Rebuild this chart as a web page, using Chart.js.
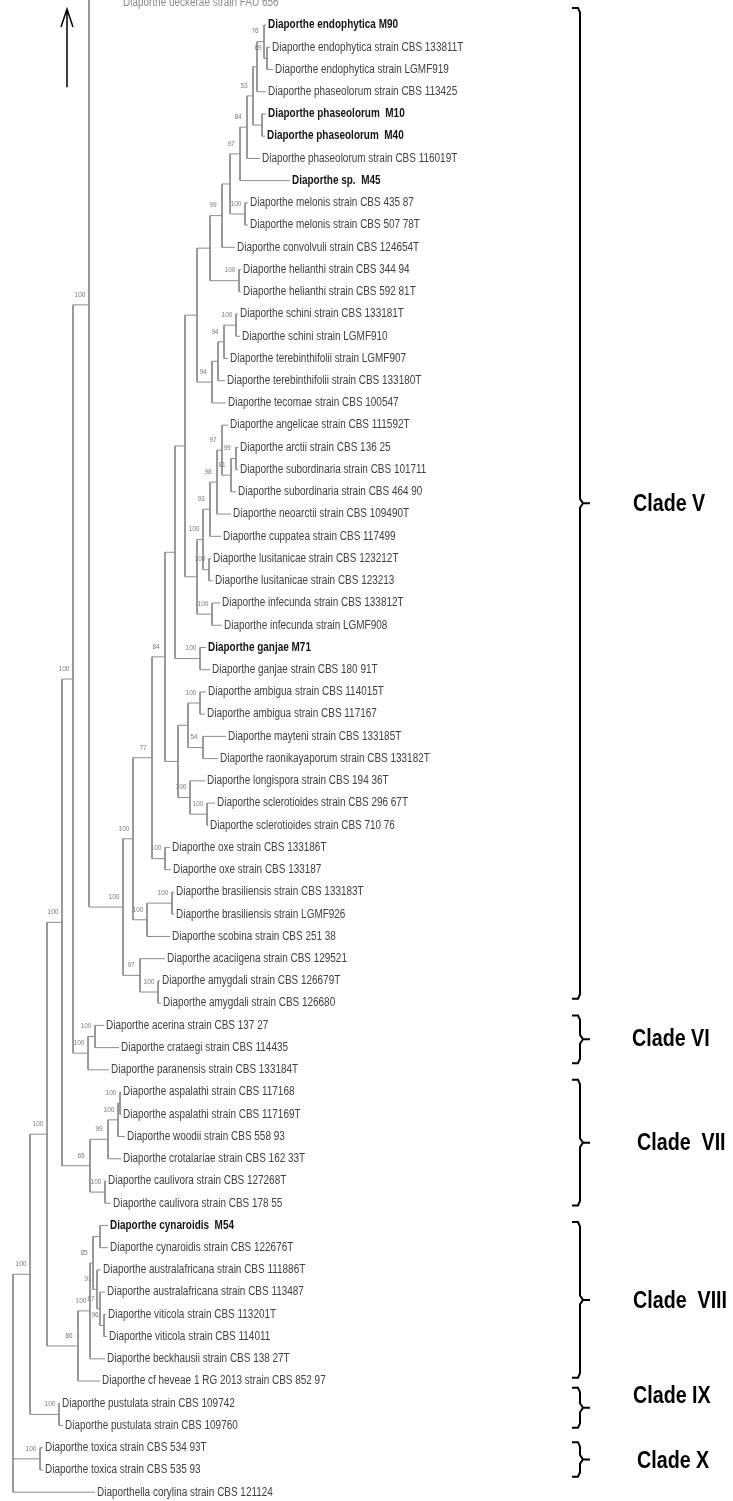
<!DOCTYPE html>
<html><head><meta charset="utf-8">
<script src="https://cdn.jsdelivr.net/npm/chart.js@4.4.1/dist/chart.umd.min.js"></script>
<style>html,body{margin:0;padding:0;background:#fff;}#wrap{width:733px;height:1501px;position:relative;}</style>
</head><body><div id="wrap"><canvas id="c" width="733" height="1501"></canvas></div>
<script>
// ---- leaves (row index = position in list) ----
const taxa = [
 "Diaporthe ueckerae strain FAU 656",
 "Diaporthe endophytica M90",
 "Diaporthe endophytica strain CBS 133811T",
 "Diaporthe endophytica strain LGMF919",
 "Diaporthe phaseolorum strain CBS 113425",
 "Diaporthe phaseolorum  M10",
 "Diaporthe phaseolorum  M40",
 "Diaporthe phaseolorum strain CBS 116019T",
 "Diaporthe sp.  M45",
 "Diaporthe melonis strain CBS 435 87",
 "Diaporthe melonis strain CBS 507 78T",
 "Diaporthe convolvuli strain CBS 124654T",
 "Diaporthe helianthi strain CBS 344 94",
 "Diaporthe helianthi strain CBS 592 81T",
 "Diaporthe schini strain CBS 133181T",
 "Diaporthe schini strain LGMF910",
 "Diaporthe terebinthifolii strain LGMF907",
 "Diaporthe terebinthifolii strain CBS 133180T",
 "Diaporthe tecomae strain CBS 100547",
 "Diaporthe angelicae strain CBS 111592T",
 "Diaporthe arctii strain CBS 136 25",
 "Diaporthe subordinaria strain CBS 101711",
 "Diaporthe subordinaria strain CBS 464 90",
 "Diaporthe neoarctii strain CBS 109490T",
 "Diaporthe cuppatea strain CBS 117499",
 "Diaporthe lusitanicae strain CBS 123212T",
 "Diaporthe lusitanicae strain CBS 123213",
 "Diaporthe infecunda strain CBS 133812T",
 "Diaporthe infecunda strain LGMF908",
 "Diaporthe ganjae M71",
 "Diaporthe ganjae strain CBS 180 91T",
 "Diaporthe ambigua strain CBS 114015T",
 "Diaporthe ambigua strain CBS 117167",
 "Diaporthe mayteni strain CBS 133185T",
 "Diaporthe raonikayaporum strain CBS 133182T",
 "Diaporthe longispora strain CBS 194 36T",
 "Diaporthe sclerotioides strain CBS 296 67T",
 "Diaporthe sclerotioides strain CBS 710 76",
 "Diaporthe oxe strain CBS 133186T",
 "Diaporthe oxe strain CBS 133187",
 "Diaporthe brasiliensis strain CBS 133183T",
 "Diaporthe brasiliensis strain LGMF926",
 "Diaporthe scobina strain CBS 251 38",
 "Diaporthe acaciigena strain CBS 129521",
 "Diaporthe amygdali strain CBS 126679T",
 "Diaporthe amygdali strain CBS 126680",
 "Diaporthe acerina strain CBS 137 27",
 "Diaporthe crataegi strain CBS 114435",
 "Diaporthe paranensis strain CBS 133184T",
 "Diaporthe aspalathi strain CBS 117168",
 "Diaporthe aspalathi strain CBS 117169T",
 "Diaporthe woodii strain CBS 558 93",
 "Diaporthe crotalariae strain CBS 162 33T",
 "Diaporthe caulivora strain CBS 127268T",
 "Diaporthe caulivora strain CBS 178 55",
 "Diaporthe cynaroidis  M54",
 "Diaporthe cynaroidis strain CBS 122676T",
 "Diaporthe australafricana strain CBS 111886T",
 "Diaporthe australafricana strain CBS 113487",
 "Diaporthe viticola strain CBS 113201T",
 "Diaporthe viticola strain CBS 114011",
 "Diaporthe beckhausii strain CBS 138 27T",
 "Diaporthe cf heveae 1 RG 2013 strain CBS 852 97",
 "Diaporthe pustulata strain CBS 109742",
 "Diaporthe pustulata strain CBS 109760",
 "Diaporthe toxica strain CBS 534 93T",
 "Diaporthe toxica strain CBS 535 93",
 "Diaporthella corylina strain CBS 121124"
];
const boldTaxa = [1, 5, 6, 8, 29, 55];
const unattachedTaxa = [0];
// tip depth of every leaf (tree distance units)
const tipDepth = [
 121, 266, 270, 273, 266, 266, 265, 260, 290, 248,
 248, 235, 241, 241, 238, 240, 228, 225, 226, 228,
 238, 238, 236, 231, 221, 211, 213, 220, 222, 206,
 210, 206, 205, 226, 218, 205, 215, 208, 170, 171,
 174, 174, 170, 165, 160, 161, 104, 119, 109, 121,
 121, 125, 121, 106, 111, 108, 108, 101, 105, 106,
 107, 105, 100, 60, 63, 43, 43, 95
];
// ---- internal nodes ----
const nodeIds = ["E2","E1","E0","P1","P2","P3","P4","M1","N1","N2","H","N3","S1","S2","S3","S4","N4",
 "A1","A2","A3","A4","A5","L","A6","I","A7","N5","G","N6","Am","My","Q1","Sc","Q2","Q","N7","Ox","N8",
 "Br","Bs","N9","Ay","Aa","N10","A","Ac","V6","B","As1","As2","As3","Ca","V7","C","Cy","Vi","Au2","Au1",
 "Cy2","Cy3","V8","D","Pu","E","To","R"];
const nodeChildren = [
 [2,3],[1,"E2"],["E1",4],[5,6],["E0","P1"],["P2",7],["P3",8],[9,10],["P4","M1"],["N1",11],[12,13],["N2","H"],
 [14,15],["S1",16],["S2",17],["S3",18],["N3","S4"],
 [20,21],["A1",22],[19,"A2"],["A3",23],["A4",24],[25,26],["A5","L"],[27,28],["A6","I"],["N4","A7"],[29,30],["N5","G"],
 [31,32],[33,34],["Am","My"],[36,37],[35,"Sc"],["Q1","Q2"],["N6","Q"],[38,39],["N7","Ox"],
 [40,41],["Br",42],["N8","Bs"],[44,45],[43,"Ay"],["N9","Aa"],["UP","N10"],[46,47],["Ac",48],["A","V6"],
 [49,50],["As1",51],["As2",52],[53,54],["As3","Ca"],["B","V7"],[55,56],[59,60],[58,"Vi"],[57,"Au2"],
 ["Cy","Au1"],["Cy2",61],["Cy3",62],["C","V8"],[63,64],["D","Pu"],[65,66],["E","To",67]
];
const nodeDepth = [
 267,264,257,262,253,247,240,245,230,222,239,210,236,224,218,212,197,
 236,231,222,217,210,209,203,212,197,185,200,175,200,203,188,207,190,178,165,165,152,
 172,147,133,158,140,123,89,95,88,73,120,118,108,105,90,62,100,104,100,97,
 93,90,78,47,59,30,40,13
];
const nodeSupport = [
 "69","76","","","53","84","97","100","","99","100","","100","94","","94","",
 "99","81","97","98","93","100","100","100","","","100","","100","54","","100","100","","84","100","77",
 "100","100","100","100","97","100","100","100","100","100","100","100","99","100","65","100","","96","67","91",
 "85","100","86","100","100","100","100",""
];
// the clade continuing above the picture
const upperCladeRow = -13.5;
const upperCladeDepth = 100;
// ---- clade brackets ----
const cladeNames = ["Clade V", "Clade VI", "Clade  VII", "Clade  VIII", "Clade IX", "Clade X"];
const cladeTopRow = [0.23, 45.55, 48.45, 54.85, 62.3, 64.75];
const cladeBottomRow = [44.8, 47.7, 54.1, 61.85, 64.1, 66.3];
const cladeLabelRow = [22.5, 46.6, 51.25, 58.35, 62.63, 65.55];
const cladeLabelX = [633, 632, 637, 633, 633, 637];
// ---- continuation arrow ----
const arrowX = 67, arrowTopRow = 0.28, arrowBottomRow = 3.8, arrowHeadRow = 1.09, arrowHeadHalf = 6;

// ---------- build geometry from the data ----------
const nodeIndex = {}; nodeIds.forEach((id, k) => nodeIndex[id] = k);
const rowCache = {};
function refRow(r) { if (typeof r === 'number') return r; if (r === 'UP') return upperCladeRow; return nodeRow(r); }
function refDepth(r) { if (typeof r === 'number') return tipDepth[r]; if (r === 'UP') return upperCladeDepth; return nodeDepth[nodeIndex[r]]; }
function nodeRow(id) {
  if (id in rowCache) return rowCache[id];
  const ys = nodeChildren[nodeIndex[id]].map(refRow);
  const v = (Math.min(...ys) + Math.max(...ys)) / 2;
  rowCache[id] = v; return v;
}
const GAP = {x: null, y: null};
const branchPts = [];
nodeIds.forEach((id, k) => {
  const d = nodeDepth[k];
  const ys = nodeChildren[k].map(refRow);
  branchPts.push({x: d, y: Math.min(...ys)}, {x: d, y: Math.max(...ys)}, GAP);
  nodeChildren[k].forEach(c => { const r = refRow(c); branchPts.push({x: d, y: r}, {x: refDepth(c), y: r}, GAP); });
});
const bracketX = 580, hookX = 572, tickX = 590, curve = 0.2;
const bracketPts = [];
cladeNames.forEach((n, i) => {
  const t = cladeTopRow[i], b = cladeBottomRow[i], m = (t + b) / 2;
  bracketPts.push({x: hookX, y: t}, {x: bracketX - 2, y: t}, {x: bracketX, y: t + curve},
    {x: bracketX, y: m - curve}, {x: bracketX + 3, y: m}, {x: tickX, y: m}, GAP,
    {x: bracketX + 3, y: m}, {x: bracketX, y: m + curve},
    {x: bracketX, y: b - curve}, {x: bracketX - 2, y: b}, {x: hookX, y: b}, GAP);
});
const arrowPts = [{x: arrowX, y: arrowBottomRow}, {x: arrowX, y: arrowTopRow}, GAP,
  {x: arrowX - arrowHeadHalf, y: arrowHeadRow}, {x: arrowX, y: arrowTopRow}, {x: arrowX + arrowHeadHalf, y: arrowHeadRow}];

const ROW0 = 2.8, ROWH = 22.23, H = 1501;
const textPlugin = {
  id: 'treeText',
  afterDatasetsDraw(chart) {
    const {ctx, scales: {x, y}} = chart;
    ctx.save();
    ctx.textBaseline = 'middle';
    taxa.forEach((name, i) => {
      const bold = boldTaxa.includes(i);
      const px = x.getPixelForValue(tipDepth[i]) + 2;
      const py = y.getPixelForValue(i);
      ctx.save();
      ctx.translate(px, py);
      ctx.scale(0.83, 1);
      ctx.font = (bold ? 'bold ' : '') + '12px "Liberation Sans", Arial, sans-serif';
      ctx.fillStyle = bold ? '#151515' : (unattachedTaxa.includes(i) ? '#8a8a8a' : '#404040');
      ctx.textAlign = 'left';
      ctx.fillText(name, 0, 0);
      ctx.restore();
    });
    ctx.font = '6.5px "Liberation Sans", Arial, sans-serif';
    ctx.fillStyle = '#7a7a7a';
    ctx.textAlign = 'center';
    nodeIds.forEach((id, k) => {
      if (!nodeSupport[k]) return;
      const px = x.getPixelForValue(nodeDepth[k]) - 9;
      const py = y.getPixelForValue(nodeRow(id)) - 10;
      ctx.fillText(nodeSupport[k], px, py);
    });
    ctx.fillStyle = '#000';
    ctx.textAlign = 'left';
    cladeNames.forEach((n, i) => {
      ctx.save();
      ctx.translate(x.getPixelForValue(cladeLabelX[i]), y.getPixelForValue(cladeLabelRow[i]));
      ctx.scale(0.82, 1);
      ctx.font = 'bold 24px "Liberation Sans", Arial, sans-serif';
      ctx.fillText(n, 0, 1);
      ctx.restore();
    });
    ctx.restore();
  }
};

new Chart(document.getElementById('c'), {
  type: 'scatter',
  data: {datasets: [
    {label: 'branches', data: branchPts, showLine: true, spanGaps: false, borderColor: '#8c8c8c', borderWidth: 1, pointRadius: 0, tension: 0},
    {label: 'clades', data: bracketPts, showLine: true, spanGaps: false, borderColor: '#000', borderWidth: 2, pointRadius: 0, tension: 0},
    {label: 'arrow', data: arrowPts, showLine: true, spanGaps: false, borderColor: '#000', borderWidth: 1.5, pointRadius: 0, tension: 0}
  ]},
  options: {
    responsive: false, animation: false, events: [],
    layout: {padding: 0},
    plugins: {legend: {display: false}, tooltip: {enabled: false}, title: {display: false}},
    scales: {
      x: {type: 'linear', min: 0, max: 733, display: false},
      y: {type: 'linear', min: -ROW0 / ROWH, max: (H - ROW0) / ROWH, reverse: true, display: false}
    }
  },
  plugins: [textPlugin]
});
</script>
</body></html>
